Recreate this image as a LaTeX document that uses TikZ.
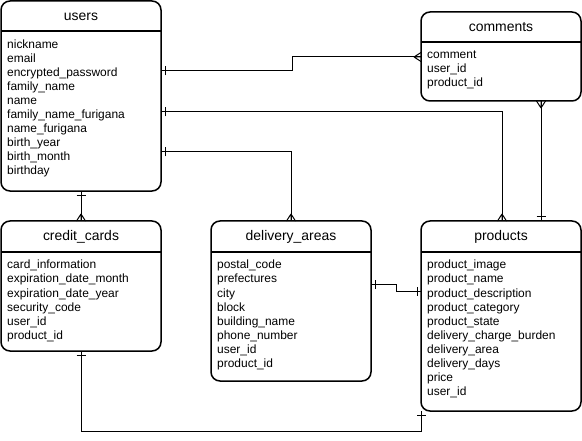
\documentclass[tikz,border=0pt]{standalone}
\usepackage{fontspec}
\setmainfont{Liberation Sans}
\usetikzlibrary{decorations.markings}
\tikzset{
  tbl/.style={draw, line width=1.5bp, rounded corners=9bp, outer sep=0pt, inner sep=0pt, anchor=north west},
  divider/.style={line width=1.5bp},
  ttl/.style={font=\fontsize{14}{16}\selectfont, inner sep=0pt},
  field/.style={font=\fontsize{12}{14}\selectfont, inner sep=0pt, anchor=west, text height=9bp, text depth=3bp},
  conn/.style={line width=1bp},
  oneEnd/.style={postaction={decorate,decoration={markings,mark=at position 1 with {\draw[line width=1bp] (-4bp,-4.5bp)--(-4bp,4.5bp);}}}},
  oneStart/.style={postaction={decorate,decoration={markings,mark=at position 0 with {\draw[line width=1bp] (4bp,-4.5bp)--(4bp,4.5bp);}}}},
  manyEnd/.style={postaction={decorate,decoration={markings,mark=at position 1 with {\draw[line width=1bp] (-7bp,0)--(0,-4.5bp) (-7bp,0)--(0,0) (-7bp,0)--(0,4.5bp);}}}},
  manyStart/.style={postaction={decorate,decoration={markings,mark=at position 0 with {\draw[line width=1bp] (7bp,0)--(0,-4.5bp) (7bp,0)--(0,0) (7bp,0)--(0,4.5bp);}}}},
}
\begin{document}
\begin{tikzpicture}[x=1bp,y=-1bp]
\useasboundingbox[fill=white] (0,0) rectangle (582,441);

% users
\node[tbl, minimum width=160bp, minimum height=190bp] (users) at (1,1) {};
\node[ttl] (users-t) at (81,17) {users};
\draw[divider] (users.west |- 0,31) -- (users.east |- 0,31);
\foreach \t [count=\i] in {nickname,email,encrypted\_password,family\_name,name,family\_name\_furigana,name\_furigana,birth\_year,birth\_month,birthday}
  \node[field] (users-f\i) at (7,32+14*\i) {\t};

% comments
\node[tbl, minimum width=160bp, minimum height=89bp] (comments) at (421,12) {};
\node[ttl] (comments-t) at (501,27) {comments};
\draw[divider] (comments.west |- 0,42) -- (comments.east |- 0,42);
\foreach \t [count=\i] in {comment,user\_id,product\_id}
  \node[field] (comments-f\i) at (427,42+14*\i) {\t};

% credit_cards
\node[tbl, minimum width=160bp, minimum height=130bp] (cc) at (1,221) {};
\node[ttl] (cc-t) at (81,237) {credit\_cards};
\draw[divider] (cc.west |- 0,252) -- (cc.east |- 0,252);
\foreach \t [count=\i] in {card\_information,expiration\_date\_month,expiration\_date\_year,security\_code,user\_id,product\_id}
  \node[field] (cc-f\i) at (7,252+14*\i) {\t};

% delivery_areas
\node[tbl, minimum width=160bp, minimum height=160bp] (da) at (211,221) {};
\node[ttl] (da-t) at (291,237) {delivery\_areas};
\draw[divider] (da.west |- 0,252) -- (da.east |- 0,252);
\foreach \t [count=\i] in {postal\_code,prefectures,city,block,building\_name,phone\_number,user\_id,product\_id}
  \node[field] (da-f\i) at (217,252+14*\i) {\t};

% products
\node[tbl, minimum width=160bp, minimum height=190bp] (products) at (421,221) {};
\node[ttl] (products-t) at (501,237) {products};
\draw[divider] (products.west |- 0,252) -- (products.east |- 0,252);
\foreach \t [count=\i] in {product\_image,product\_name,product\_description,product\_category,product\_state,delivery\_charge\_burden,delivery\_area,delivery\_days,price,user\_id}
  \node[field] (products-f\i) at (427,252+14*\i) {\t};

% connectors
\draw[conn, oneStart, manyEnd] (users.east |- 0,71) -- (292,71) -- (292,57) -- (comments.west |- 0,57);
\draw[conn, oneStart, manyEnd] (users.east |- 0,112) -- (502,112) -- (products.north -| 502,0);
\draw[conn, oneStart, manyEnd] (users.east |- 0,152) -- (da.north |- 0,152) -- (da.north);
\draw[conn, oneStart, manyEnd] (users.south) -- (cc.north);
\draw[conn, manyStart, oneEnd] (comments.south -| 541,0) -- (products.north -| 541,0);
\draw[conn, oneStart, oneEnd] (da.east |- 0,284) -- (396,284) -- (396,291) -- (products.west |- 0,291);
\draw[conn, oneStart, oneEnd] (cc.south) -- (cc.south |- 0,431) -- (products.south west |- 0,431) -- (products.south west);
\end{tikzpicture}
\end{document}
